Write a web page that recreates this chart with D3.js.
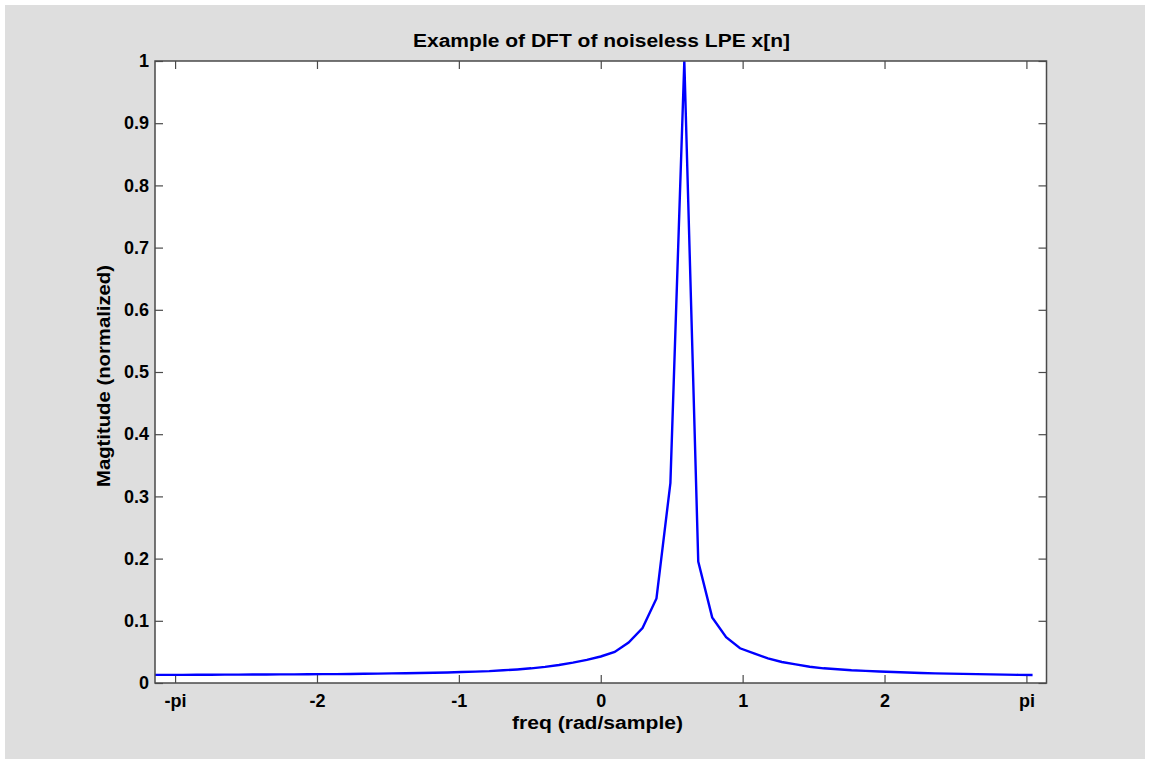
<!DOCTYPE html>
<html>
<head>
<meta charset="utf-8">
<script src="https://cdn.jsdelivr.net/npm/d3@7"></script>
<style>
  html, body { margin: 0; padding: 0; background: #ffffff; }
  svg { display: block; }
  text { font-family: "Liberation Sans", Arial, Helvetica, sans-serif; font-weight: bold; fill: #000; }
</style>
</head>
<body>
<svg id="chart" width="1150" height="764"></svg>
<script>
// DFT bin frequencies (rad/sample), 64-point DFT from -pi to pi
const freq = [
  -3.1416, -3.0434, -2.9452, -2.8471, -2.7489, -2.6507, -2.5525, -2.4544,
  -2.3562, -2.2580, -2.1598, -2.0617, -1.9635, -1.8653, -1.7671, -1.6690,
  -1.5708, -1.4726, -1.3744, -1.2763, -1.1781, -1.0799, -0.9817, -0.8836,
  -0.7854, -0.6872, -0.5890, -0.4909, -0.3927, -0.2945, -0.1963, -0.0982,
   0.0000,  0.0982,  0.1963,  0.2945,  0.3927,  0.4909,  0.5890,  0.6872,
   0.7854,  0.8836,  0.9817,  1.0799,  1.1781,  1.2763,  1.3744,  1.4726,
   1.5708,  1.6690,  1.7671,  1.8653,  1.9635,  2.0617,  2.1598,  2.2580,
   2.3562,  2.4544,  2.5525,  2.6507,  2.7489,  2.8471,  2.9452,  3.0434
];
// normalized magnitude
const magnitude = [
  0.0130, 0.0130, 0.0131, 0.0132, 0.0133, 0.0134, 0.0135, 0.0136,
  0.0137, 0.0138, 0.0139, 0.0140, 0.0142, 0.0143, 0.0145, 0.0148,
  0.0151, 0.0154, 0.0157, 0.0161, 0.0165, 0.0170, 0.0176, 0.0183,
  0.0191, 0.0204, 0.0218, 0.0236, 0.0260, 0.0290, 0.0328, 0.0372,
  0.0426, 0.0500, 0.0650, 0.0884, 0.1360, 0.3215, 1.0000, 0.1953,
  0.1055, 0.0735, 0.0558, 0.0477, 0.0397, 0.0338, 0.0300, 0.0262,
  0.0236, 0.0220, 0.0204, 0.0195, 0.0185, 0.0178, 0.0168, 0.0160,
  0.0155, 0.0150, 0.0146, 0.0142, 0.0138, 0.0134, 0.0131, 0.0129
];
const xTickValues = [-3, -2, -1, 0, 1, 2, 3];
const xTickLabels = ["-pi", "-2", "-1", "0", "1", "2", "pi"];
const yTickValues = [0, 0.1, 0.2, 0.3, 0.4, 0.5, 0.6, 0.7, 0.8, 0.9, 1];
const yTickLabels = ["0", "0.1", "0.2", "0.3", "0.4", "0.5", "0.6", "0.7", "0.8", "0.9", "1"];
const xDomain = [-Math.PI, Math.PI];
const yDomain = [0, 1];
const titleText = "Example of DFT of noiseless LPE x[n]";
const xLabelText = "freq (rad/sample)";
const yLabelText = "Magtitude (normalized)";

const svg = d3.select("#chart");
const W = 1150, H = 764;
const m = { left: 155, right: 1046.5, top: 61, bottom: 683 };

// figure background
svg.append("rect").attr("x", 0).attr("y", 0).attr("width", W).attr("height", H).attr("fill", "#ffffff");
svg.append("rect").attr("x", 5).attr("y", 5).attr("width", W - 10).attr("height", H - 10).attr("fill", "#dedede");
// axes background
svg.append("rect").attr("x", m.left).attr("y", m.top)
  .attr("width", m.right - m.left).attr("height", m.bottom - m.top).attr("fill", "#ffffff");

const x = d3.scaleLinear().domain(xDomain).range([m.left, m.right]);
const y = d3.scaleLinear().domain(yDomain).range([m.bottom, m.top]);

const tickLen = 8;
const axisColor = "#4a4a4a";

function styleAxis(g) {
  g.select(".domain").remove();
  g.selectAll(".tick line").attr("stroke", axisColor).attr("stroke-width", 1.2);
  g.selectAll(".tick text").style("font-size", "18px").style("font-weight", "bold")
    .style("font-family", '"Liberation Sans", Arial, sans-serif').attr("fill", "#000");
}

// bottom axis (ticks inside)
const xAxisBottom = d3.axisBottom(x).tickValues(xTickValues)
  .tickFormat((d, i) => xTickLabels[i]).tickSizeInner(-tickLen).tickSizeOuter(0).tickPadding(11);
svg.append("g").attr("transform", `translate(0,${m.bottom})`).call(xAxisBottom).call(styleAxis);
// top axis ticks (no labels)
const xAxisTop = d3.axisTop(x).tickValues(xTickValues).tickFormat("").tickSizeInner(-tickLen).tickSizeOuter(0);
svg.append("g").attr("transform", `translate(0,${m.top})`).call(xAxisTop).call(styleAxis);
// left axis
const yAxisLeft = d3.axisLeft(y).tickValues(yTickValues)
  .tickFormat((d, i) => yTickLabels[i]).tickSizeInner(-tickLen).tickSizeOuter(0).tickPadding(6);
svg.append("g").attr("transform", `translate(${m.left},0)`).call(yAxisLeft).call(styleAxis);
// right axis ticks
const yAxisRight = d3.axisRight(y).tickValues(yTickValues).tickFormat("").tickSizeInner(-tickLen).tickSizeOuter(0);
svg.append("g").attr("transform", `translate(${m.right},0)`).call(yAxisRight).call(styleAxis);

// curve
const data = freq.map((f, i) => ({ f: f, v: magnitude[i] }));
const line = d3.line().x(d => x(d.f)).y(d => y(d.v));
svg.append("defs").append("clipPath").attr("id", "clip")
  .append("rect").attr("x", m.left).attr("y", m.top - 1)
  .attr("width", m.right - m.left).attr("height", m.bottom - m.top + 1);
svg.append("path").datum(data).attr("d", line)
  .attr("fill", "none").attr("stroke", "#0000ff").attr("stroke-width", 2.4)
  .attr("stroke-linejoin", "miter").attr("clip-path", "url(#clip)");

// frame
svg.append("rect").attr("x", m.left).attr("y", m.top)
  .attr("width", m.right - m.left).attr("height", m.bottom - m.top)
  .attr("fill", "none").attr("stroke", axisColor).attr("stroke-width", 1.5);

// title & labels
svg.append("text").attr("x", 601.5).attr("y", 47)
  .attr("text-anchor", "middle").style("font-size", "18px")
  .attr("textLength", 377).attr("lengthAdjust", "spacingAndGlyphs").text(titleText);
svg.append("text").attr("x", 597.5).attr("y", 729)
  .attr("text-anchor", "middle").style("font-size", "18px")
  .attr("textLength", 171).attr("lengthAdjust", "spacingAndGlyphs").text(xLabelText);
svg.append("text").attr("transform", `translate(110,376) rotate(-90)`)
  .attr("text-anchor", "middle").style("font-size", "18px")
  .attr("textLength", 222).attr("lengthAdjust", "spacingAndGlyphs").text(yLabelText);
</script>
</body>
</html>
